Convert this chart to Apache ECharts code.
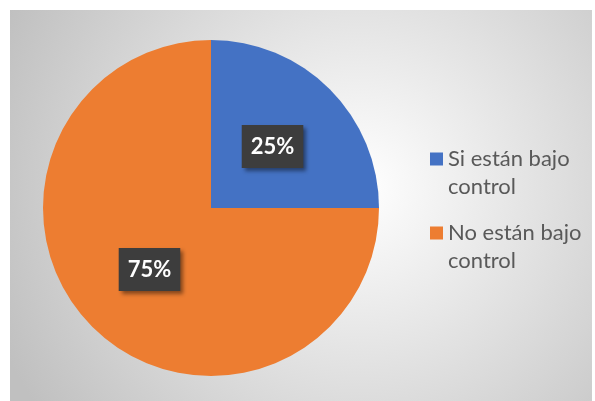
<!DOCTYPE html>
<html>
<head>
<meta charset="utf-8">
<script src="https://cdn.jsdelivr.net/npm/echarts@6/dist/echarts.min.js"></script>
<style>
  html, body { margin: 0; padding: 0; background: #ffffff; }
  #chart { width: 595px; height: 401px; }
</style>
</head>
<body>
<div id="chart"></div>
<script>
  // slice names and values
  const categories = ["Si están bajo control", "No están bajo control"]
  const legendLabels = ["Si están bajo\ncontrol", "No están bajo\ncontrol"]
  const values = [25, 75]
  const colors = ["#4472C4", "#ED7D31"]

  const chartDom = document.getElementById("chart")
  const myChart = echarts.init(chartDom, null, { width: 595, height: 401 })

  // legend text is centred on its icon, so a blank first line keeps
  // the square level with the first text line (like the original)
  const makeLegend = (i, top) => ({
    orient: "vertical",
    left: 425,
    top: top,
    itemWidth: 13,
    itemHeight: 13,
    icon: "rect",
    selectedMode: false,
    data: [categories[i]],
    formatter: () => "\n" + legendLabels[i],
    textStyle: {
      color: "#595959",
      fontFamily: "Lato, 'Open Sans', sans-serif",
      fontSize: 22,
      lineHeight: 28
    }
  })

  const option = {
    animation: false,
    graphic: [
      {
        type: "rect",
        silent: true,
        z: -10,
        shape: { x: 10, y: 10, width: 582, height: 391 },
        style: {
          fill: new echarts.graphic.RadialGradient(0.6, 0.45, 1.0, [
            { offset: 0, color: "#ffffff" },
            { offset: 1, color: "#c0c0c0" }
          ])
        }
      }
    ],
    legend: [makeLegend(0, 112), makeLegend(1, 186)],
    series: [
      {
        type: "pie",
        center: [211, 208],
        radius: 168,
        startAngle: 90,
        clockwise: true,
        color: colors,
        label: {
          show: true,
          position: "inside",
          formatter: "{d}%",
          color: "#ffffff",
          fontFamily: "Lato, 'Open Sans', sans-serif",
          fontWeight: "bold",
          fontSize: 22,
          backgroundColor: "#3d3d3d",
          padding: [11, 9, 10, 9],
          shadowColor: "rgba(0,0,0,0.45)",
          shadowBlur: 4,
          shadowOffsetX: 3,
          shadowOffsetY: 3
        },
        labelLine: { show: false },
        emphasis: { disabled: true },
        data: categories.map((name, i) => ({ name: name, value: values[i] }))
      }
    ]
  }

  myChart.setOption(option)
</script>
</body>
</html>
